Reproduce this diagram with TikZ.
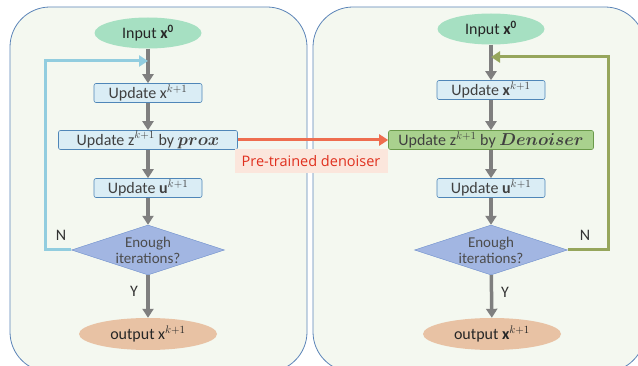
\documentclass[tikz,border=0pt]{standalone}
\usepackage{amsmath,bm}
\usepackage{fontspec}
\setmainfont{Carlito}
\newfontfamily\labelfont{Open Sans}
\usetikzlibrary{arrows.meta,positioning,shapes.geometric}

\definecolor{panelfill}{HTML}{F4F8F0}
\definecolor{panelline}{HTML}{5B84B8}
\definecolor{startfill}{HTML}{A6E0C2}
\definecolor{stepfill}{HTML}{DAEDF5}
\definecolor{stepline}{HTML}{4F86B8}
\definecolor{denfill}{HTML}{A9D18E}
\definecolor{denline}{HTML}{6A9A4A}
\definecolor{askfill}{HTML}{A2B6E2}
\definecolor{askline}{HTML}{6E8FCC}
\definecolor{endfill}{HTML}{E8C2A4}
\definecolor{flowgray}{HTML}{7F7F7F}
\definecolor{loopblue}{HTML}{92CDDF}
\definecolor{loopolive}{HTML}{96A65C}
\definecolor{linkred}{HTML}{EE6E50}
\definecolor{tagfill}{HTML}{FBE6DC}
\definecolor{tagtext}{HTML}{E0301E}

\begin{document}
\begin{tikzpicture}[x=1pt,y=-1pt,
  font=\fontsize{16}{18}\selectfont,
  panel/.style={draw=panelline,fill=panelfill,rounded corners=40pt,line width=0.8pt},
  start/.style={ellipse,fill=startfill,minimum width=107pt,minimum height=31pt,inner sep=0pt,text=black!85},
  stepbox/.style={draw=stepline,fill=stepfill,rounded corners=2pt,minimum height=19pt,inner sep=0pt,text=black!75,line width=0.6pt},
  ask/.style={diamond,draw=askline,fill=askfill,aspect=3,minimum width=153pt,minimum height=50pt,inner sep=0pt,align=center,text=black!70,font=\fontsize{15}{16}\selectfont},
  finish/.style={ellipse,fill=endfill,minimum width=138pt,minimum height=32pt,inner sep=0pt,text=black!85},
  flow/.style={-{Triangle[length=9pt,width=11pt]},draw=flowgray,line width=3.5pt},
  back/.style={-{Triangle[length=9pt,width=11pt]},line width=3pt},
  yn/.style={font=\fontsize{16}{18}\selectfont,text=black!80}]
\useasboundingbox (0,0) rectangle (638,366);

% two panels
\draw[panel] (10,7) rectangle (307,372);
\draw[panel] (313,7) rectangle (645,372);

% left: plain ADMM
\node[start] (in1) at (148,33) {Input $\mathbf{x^0}$};
\node[stepbox,minimum width=108pt] (x1) at (148,93) {Update $\mathrm{x}^{k+1}$};
\node[stepbox,minimum width=179pt] (z1) at (148,140) {Update $\mathrm{z}^{k+1}$ by $\bm{prox}$};
\node[stepbox,minimum width=108pt] (u1) at (148,188) {Update $\mathbf{u}^{k+1}$};
\node[ask] (d1) at (148,250) {Enough\\iterations?};
\node[finish] (out1) at (148,334) {output $\mathrm{x}^{k+1}$};
\coordinate (j1) at (148,61);
\coordinate (c1) at (45,61);

\draw[flow] (in1) -- (x1);
\draw[flow] (x1) -- (z1);
\draw[flow] (z1) -- (u1);
\draw[flow] (u1) -- (d1);
\draw[flow] (d1) -- (out1);
\draw[back,draw=loopblue] (d1.west) -| (c1) -- (j1);
\node[yn] (n1) at (61,235) {N};
\node[yn] (y1) at (134,291) {Y};

% right: plug-and-play
\node[start] (in2) at (491,29) {Input $\mathbf{x^0}$};
\node[stepbox,minimum width=108pt] (x2) at (491,90) {Update $\mathbf{x}^{k+1}$};
\node[stepbox,draw=denline,fill=denfill,minimum width=205pt] (z2) at (491,140) {Update $\mathrm{z}^{k+1}$ by $\bm{Denoiser}$};
\node[stepbox,minimum width=108pt] (u2) at (491,188) {Update $\mathbf{u}^{k+1}$};
\node[ask] (d2) at (491,250) {Enough\\iterations?};
\node[finish] (out2) at (492,334) {output $\mathbf{x}^{k+1}$};
\coordinate (j2) at (491,57);
\coordinate (c2) at (608,57);

\draw[flow] (in2) -- (x2);
\draw[flow] (x2) -- (z2);
\draw[flow] (z2) -- (u2);
\draw[flow] (u2) -- (d2);
\draw[flow] (d2) -- (out2);
\draw[back,draw=loopolive] (d2.east) -| (c2) -- (j2);
\node[yn] (n2) at (585,235) {N};
\node[yn] (y2) at (505,292) {Y};

% link between panels
\draw[back,draw=linkred] (z1.east) -- (z2.west);
\node[fill=tagfill,text=tagtext,minimum width=153pt,minimum height=24pt,inner sep=0pt,font=\labelfont\fontsize{14.5}{16}\selectfont] (tag) at (311,161) {Pre-trained denoiser};
\end{tikzpicture}
\end{document}
